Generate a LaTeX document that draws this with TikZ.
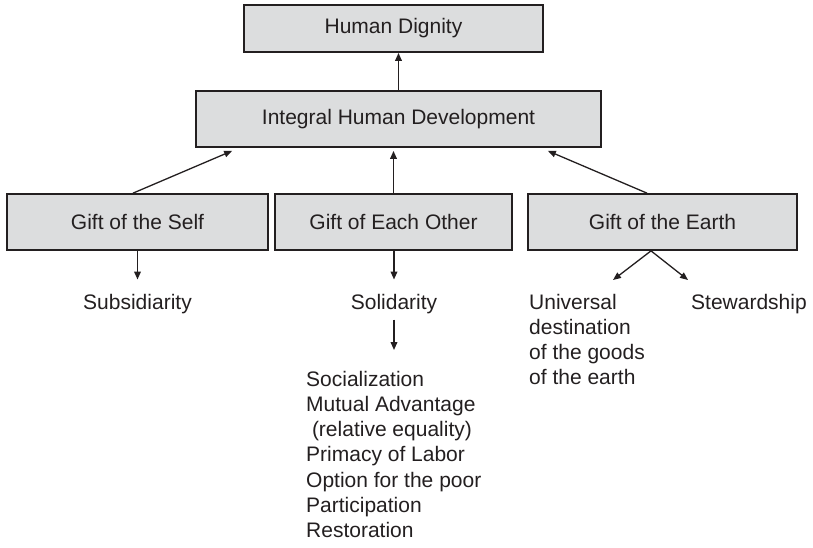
\documentclass[tikz,border=0pt]{standalone}
\usepackage{fontspec}
\setmainfont{Liberation Sans}
\usetikzlibrary{arrows.meta}
\definecolor{ink}{HTML}{231F20}
\definecolor{boxfill}{HTML}{DCDDDE}
\begin{document}
\begin{tikzpicture}[x=1pt,y=-1pt,
  every node/.style={text=ink, font=\fontsize{21}{25.3}\selectfont},
  box/.style={draw=ink, line width=1.7pt, fill=boxfill, inner sep=0pt, minimum height=56pt},
  txt/.style={inner sep=0pt, anchor=base},
  txtleft/.style={inner sep=0pt, anchor=base west},
  arr/.style={draw=ink, line width=1.8pt, -{Triangle[length=8pt,width=6.5pt]}},
  diag/.style={line width=1.3pt}]
\useasboundingbox (0,0) rectangle (813,547);

% boxes
\node[box, minimum width=299pt, minimum height=47pt] (hd) at (393.5,28.5) {Human Dignity};
\node[box, minimum width=405pt] (ihd) at (398.5,119) {Integral Human Development};
\node[box, minimum width=261pt] (self) at (137.5,222) {Gift of the Self};
\node[box, minimum width=237pt] (each) at (393.5,222) {Gift of Each Other};
\node[box, minimum width=269pt] (earth) at (662.5,222) {Gift of the Earth};

% principles
\node[txt] (sub) at (137.5,309) {Subsidiarity};
\node[txt] (sol) at (394,309) {Solidarity};
\node[txtleft] (ud) at (529,309) {\begin{tabular}[t]{@{}l@{}}Universal\\destination\\of the goods\\of the earth\end{tabular}};
\node[txtleft] (stew) at (691,309) {Stewardship};
\node[txtleft] (list) at (306,386) {\begin{tabular}[t]{@{}l@{}}Socialization\\Mutual Advantage\\\hspace*{5.8pt}(relative equality)\\Primacy of Labor\\Option for the poor\\Participation\\Restoration\end{tabular}};

% arrow tips below the earth box
\coordinate (udtip) at (613,280);
\coordinate (swtip) at (688,280);

% upward links
\draw[arr] (ihd.north) -- (ihd.north |- hd.south);
\draw[arr] (each.north) -- ([yshift=-3pt]each.north |- ihd.south);
\draw[arr, diag] ([xshift=-4.5pt]self.north) -- ([xshift=37pt,yshift=-3pt]ihd.south west);
\draw[arr, diag] ([xshift=-15.5pt]earth.north) -- ([xshift=-54pt,yshift=-3pt]ihd.south east);

% downward links
\draw[arr, shorten >=14pt] (self.south) -- (sub.north);
\draw[arr, shorten >=14pt] (each.south -| sol.north) -- (sol.north);
\draw[arr, shorten <=6pt] (sol.south) -- ([yshift=18pt]sol.south |- list.north);
\draw[arr, diag] ([xshift=-11.5pt]earth.south) -- (udtip);
\draw[arr, diag] ([xshift=-11.5pt]earth.south) -- (swtip);
\end{tikzpicture}
\end{document}
